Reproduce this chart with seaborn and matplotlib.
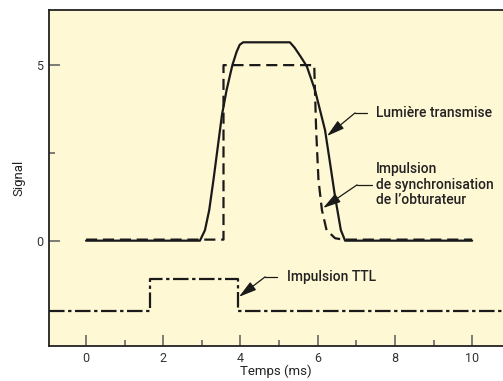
import seaborn as sns
import matplotlib.pyplot as plt
from matplotlib.ticker import MultipleLocator

# values
light_t = [0, 2.95, 3.08, 3.19, 3.30, 3.52, 3.64, 3.79, 3.90, 3.98, 4.07, 5.28, 5.40, 5.56, 5.72, 5.93, 6.19, 6.32, 6.45, 6.60, 6.71, 10]
light_v = [0, 0, 0.3, 0.87, 1.73, 3.58, 4.29, 5.0, 5.38, 5.58, 5.65, 5.65, 5.50, 5.24, 4.96, 4.29, 3.15, 2.21, 1.25, 0.3, 0, 0]

shutter_t = [0, 3.56, 3.56, 5.91, 5.96, 6.02, 6.11, 6.23, 6.45, 6.66, 10]
shutter_v = [0.03, 0.03, 5.0, 5.0, 3.15, 1.73, 0.87, 0.3, 0.07, 0.03, 0.03]

ttl_t = [-0.96, 1.66, 1.66, 3.94, 3.94, 10.8]
ttl_v = [-2.0, -2.0, -1.1, -1.1, -2.0, -2.0]

sns.set_style("ticks")
plt.rcParams['font.family'] = ['Roboto', 'DejaVu Sans']

fig = plt.figure(figsize=(5.03, 3.81), dpi=100)
ax = fig.add_axes([49 / 503, 35 / 381, 454 / 503, 336 / 381])
ax.set_facecolor('#fff8d5')

sns.lineplot(x=light_t, y=light_v, ax=ax, color='#1a1a1a', lw=1.6,
             estimator=None, sort=False)
sns.lineplot(x=shutter_t, y=shutter_v, ax=ax, color='#1a1a1a', lw=1.6,
             estimator=None, sort=False, linestyle=(0, (5, 2.6)))
sns.lineplot(x=ttl_t, y=ttl_v, ax=ax, color='#1a1a1a', lw=1.6,
             estimator=None, sort=False, linestyle=(0, (7, 1.6, 1.5, 1.6)))

ax.set_xlim(-0.96, 10.8)
ax.set_ylim(-3.0, 6.57)

ax.xaxis.set_major_locator(MultipleLocator(2))
ax.xaxis.set_minor_locator(MultipleLocator(1))
ax.set_yticks([0, 5])
ax.set_yticks([2.5], minor=True)
ax.tick_params(which='major', direction='in', length=8, width=1.2, color='#666666',
               labelsize=9, labelcolor='#333333', pad=4)
ax.tick_params(which='minor', direction='in', length=4, width=1.2, color='#666666')

for side in ['left', 'bottom', 'top']:
    ax.spines[side].set_color('#222222')
    ax.spines[side].set_linewidth(1.3)
ax.spines['right'].set_visible(False)

ax.set_xlabel('Temps (ms)', fontsize=9.5, color='#222222', labelpad=0)
ax.set_ylabel('Signal', fontsize=9.5, color='#222222', labelpad=8)

arrow = dict(arrowstyle='-|>,head_length=0.9,head_width=0.25', color='#1a1a1a',
             lw=0.9, shrinkA=0, shrinkB=0, mutation_scale=12)
label_font = dict(fontsize=10, color='#222222', fontweight='medium')

# Lumière transmise
ax.plot([7.28, 6.97], [3.64, 3.64], color='#1a1a1a', lw=0.9)
ax.annotate('', xy=(6.24, 2.98), xytext=(6.97, 3.64), arrowprops=arrow)
ax.text(7.5, 3.64, 'Lumière transmise', va='center', ha='left', **label_font)

# Impulsion de synchronisation
ax.plot([7.41, 7.02], [1.59, 1.59], color='#1a1a1a', lw=0.9)
ax.annotate('', xy=(6.14, 0.93), xytext=(7.02, 1.59), arrowprops=arrow)
ax.text(7.5, 1.59, 'Impulsion\nde synchronisation\nde l\u2019obturateur', va='center',
        ha='left', linespacing=1.15, **label_font)

# Impulsion TTL
ax.plot([4.95, 4.64], [-1.03, -1.03], color='#1a1a1a', lw=0.9)
ax.annotate('', xy=(3.96, -1.6), xytext=(4.64, -1.03), arrowprops=arrow)
ax.text(5.2, -1.03, 'Impulsion TTL', va='center', ha='left', **label_font)

fig.savefig('out.png', dpi=100)
